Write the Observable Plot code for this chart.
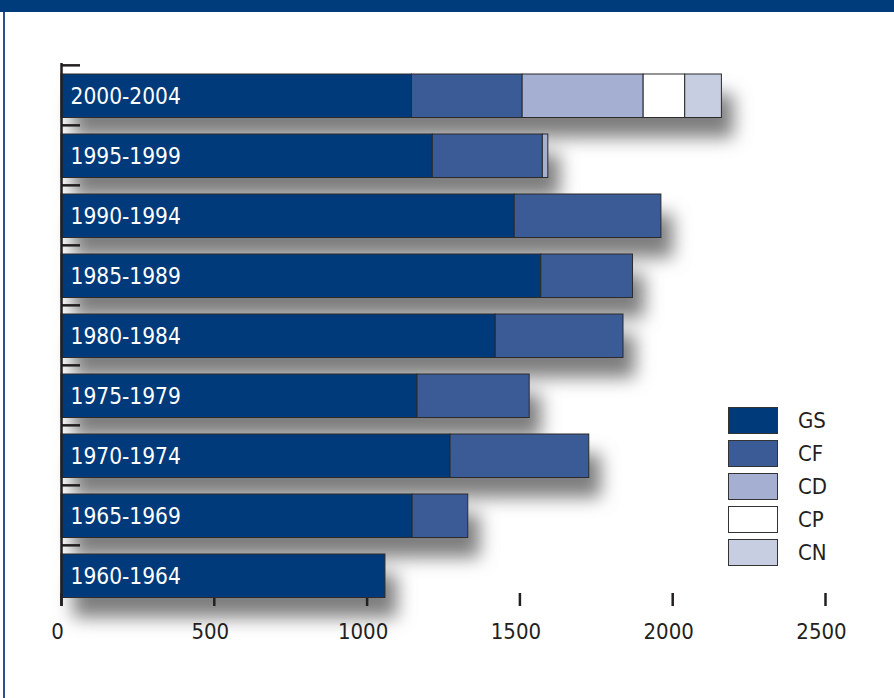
<!DOCTYPE html>
<html>
<head>
<meta charset="utf-8">
<script src="https://cdn.jsdelivr.net/npm/d3@7"></script>
<script src="https://cdn.jsdelivr.net/npm/@observablehq/plot@0.6"></script>
<style>
  html, body { margin: 0; padding: 0; background: #fff; }
  #wrap { position: relative; width: 894px; height: 698px; overflow: hidden; background: #fff; }
  #topband { position: absolute; left: 0; top: 0; width: 894px; height: 12px; background: #003b7c; }
  #leftline { position: absolute; left: 3px; top: 12px; width: 2px; height: 686px; background: #2d4f8a; }
  #chart { position: absolute; left: 0; top: 0; }
  #legend { position: absolute; left: 728px; top: 404px; font-family: "DejaVu Sans Condensed", "Liberation Sans Narrow", sans-serif; font-stretch: condensed; }
  .item { display: flex; align-items: center; height: 33px; }
  .sw { width: 48px; height: 25px; border: 1.5px solid #333; box-sizing: content-box; margin-right: 20px; }
  .lb { font-size: 22px; color: #231f20; }
</style>
</head>
<body>
<div id="wrap">
  <div id="chart"></div>
  <div id="topband"></div>
  <div id="leftline"></div>
  <div id="legend"></div>
</div>
<script>
const periods = ["2000-2004","1995-1999","1990-1994","1985-1989","1980-1984","1975-1979","1970-1974","1965-1969","1960-1964"];
const series = ["GS","CF","CD","CP","CN"];
const GS = [1147,1215,1483,1570,1421,1165,1273,1149,1060];
const CF = [362,360,480,300,418,367,454,182,0];
const CD = [396,18,0,0,0,0,0,0,0];
const CP = [136,0,0,0,0,0,0,0,0];
const CN = [120,0,0,0,0,0,0,0,0];
const xTicks = [0,500,1000,1500,2000,2500];
const colors = ["#003a7a","#3b5b96","#a4afd1","#ffffff","#c8cee2"];

const values = [GS, CF, CD, CP, CN];
const rows = periods.flatMap((p, i) => series.map((s, j) => ({period: p, series: s, value: values[j][i]}))).filter(d => d.value > 0);

const font = '"DejaVu Sans Condensed", "Liberation Sans Narrow", sans-serif';
const inTop = 9, inBottom = 7.5;

const chart = Plot.plot({
  width: 894,
  height: 698,
  marginLeft: 61,
  marginRight: 69,
  marginTop: 63,
  marginBottom: 92,
  style: {fontFamily: font, background: "transparent", overflow: "visible"},
  x: {domain: [0, 2500], axis: null},
  y: {domain: periods, padding: 0, axis: null},
  color: {domain: series, range: colors},
  marks: [
    // shadow layer (blurred afterwards)
    Plot.barX(rows, Plot.groupY({x: "sum"}, {x: "value", y: "period", fill: "#7e7e7e", insetTop: inTop, insetBottom: inBottom, dx: 12, dy: 20})),
    Plot.axisX({ticks: xTicks, tickSize: -13, tickFormat: () => "", stroke: "#231f20", strokeWidth: 2.5, label: null}),
    Plot.axisY({tickSize: -19, tickFormat: () => "", dy: -30.17, stroke: "#231f20", strokeWidth: 2.5, label: null}),
    Plot.barX(rows, Plot.stackX({x: "value", y: "period", fill: "series", order: series, stroke: "#2b2b2b", strokeWidth: 1, insetTop: inTop, insetBottom: inBottom})),
    Plot.text(periods, {x: 0, y: d => d, text: d => d, textAnchor: "start", dx: 9, dy: 1, fill: "white", fontSize: 22.5, fontFamily: font}),
    Plot.ruleX([0], {stroke: "#231f20", strokeWidth: 2.5}),
    Plot.axisX({ticks: xTicks, tickSize: 0, tickPadding: 17, dx: -4, fontSize: 22, fill: "#231f20", tickFormat: d3.format("d"), label: null, line: true, stroke: "#231f20", strokeWidth: 2.5})
  ]
});

// blur the shadow layer (the first bar group)
const barGroups = d3.select(chart).selectAll("g").filter(function() { return this.getAttribute("aria-label") === "bar"; });
const svg = d3.select(chart);
const defs = svg.insert("defs", ":first-child");
defs.append("filter").attr("id", "blurShadow")
  .attr("filterUnits", "userSpaceOnUse").attr("x", 0).attr("y", 0).attr("width", 894).attr("height", 698)
  .append("feGaussianBlur").attr("stdDeviation", 9);
d3.select(barGroups.nodes()[0]).attr("filter", "url(#blurShadow)");

document.getElementById("chart").appendChild(chart);

const legend = d3.select("#legend");
series.forEach((s, i) => {
  const it = legend.append("div").attr("class", "item");
  it.append("div").attr("class", "sw").style("background", colors[i]);
  it.append("div").attr("class", "lb").text(s);
});
</script>
</body>
</html>
